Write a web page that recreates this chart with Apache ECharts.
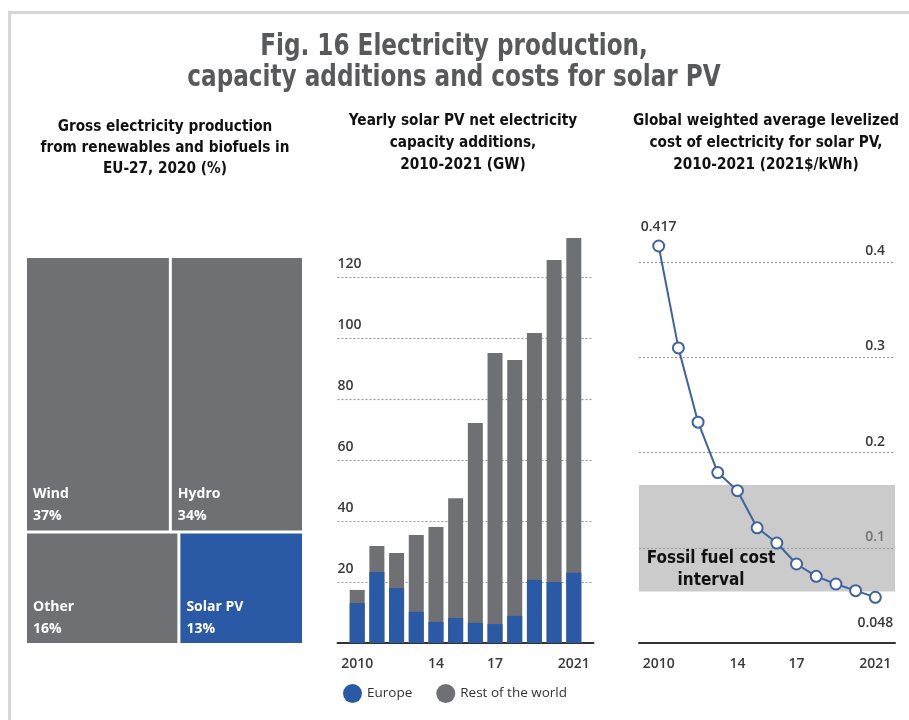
<!DOCTYPE html>
<html>
<head>
<meta charset="utf-8">
<script src="https://cdn.jsdelivr.net/npm/echarts@6/dist/echarts.min.js"></script>
<style>
html,body{margin:0;padding:0;background:#fff;}
#c{width:909px;height:720px;}
</style>
</head>
<body>
<div id="c"></div>
<script>
// ---- data ----
const treemapNames = ['Wind', 'Hydro', 'Other', 'Solar PV'];
const treemapShares = [37, 34, 16, 13];

const years = [2010, 2011, 2012, 2013, 2014, 2015, 2016, 2017, 2018, 2019, 2020, 2021];
const europeGW = [13.1, 23.3, 18.0, 10.2, 6.9, 8.2, 6.6, 6.2, 8.9, 20.7, 20.0, 23.0];
const restGW = [4.3, 8.5, 11.5, 25.2, 31.1, 39.3, 65.5, 88.9, 83.9, 80.9, 105.6, 109.8];

const lcoe = [0.417, 0.310, 0.232, 0.179, 0.160, 0.121, 0.105, 0.083, 0.070, 0.062, 0.055, 0.048];
const fossilBand = [0.054, 0.166];

const xTickYears = [2010, 2014, 2017, 2021];
const xTickLabels = ['2010', '14', '17', '2021'];

const mainTitle = 'Fig. 16 Electricity production,\ncapacity additions and costs for solar PV';
const panelTitles = [
  'Gross electricity production\nfrom renewables and biofuels in\nEU-27, 2020 (%)',
  'Yearly solar PV net electricity\ncapacity additions,\n2010-2021 (GW)',
  'Global weighted average levelized\ncost of electricity for solar PV,\n2010-2021 (2021$/kWh)'
];

// ---- styles ----
const BLUE = '#2a5aa5';
const GREY = '#6f7073';
const LINE = '#3f639e';
const condensed = '"DejaVu Sans Condensed", "DejaVu Sans", sans-serif';
const labelFont = '"Open Sans", sans-serif';

const chart = echarts.init(document.getElementById('c'));

function xLabelFmt(v) {
  const i = xTickYears.indexOf(Math.round(v));
  return i >= 0 ? xTickLabels[i] : '';
}

// total bar height = europe + rest (grey drawn behind, europe in front)
const totalGW = years.map((y, i) => +(europeGW[i] + restGW[i]).toFixed(1));

function headingText(text, x, y, size, lh, sx, color) {
  return {
    type: 'text', silent: true, z: 50,
    x: x, y: y, scaleX: sx,
    style: {
      text: text, textAlign: 'center', textVerticalAlign: 'top',
      font: 'bold ' + size + 'px ' + condensed, fill: color, lineHeight: lh
    }
  };
}

const option = {
  animation: false,
  graphic: [
    {
      type: 'rect', silent: true, z: -10,
      shape: { x: 9.5, y: 12.5, width: 920, height: 730 },
      style: { fill: 'none', stroke: '#d6d6d6', lineWidth: 3 }
    },
    headingText(mainTitle, 454, 31, 31, 31, 0.83, '#58595b'),
    headingText(panelTitles[0], 165, 116, 16, 21, 0.95, '#111'),
    headingText(panelTitles[1], 463, 110, 16, 22, 0.95, '#111'),
    headingText(panelTitles[2], 766, 110, 16, 22, 0.95, '#111'),
    {
      type: 'text', z: 100, silent: true,
      x: 711, y: 548,
      style: {
        text: 'Fossil fuel cost\ninterval', textAlign: 'center', textVerticalAlign: 'top',
        font: 'bold 17px ' + condensed, fill: '#111', lineHeight: 22
      }
    }
  ],
  legend: {
    data: ['Europe', 'Rest of the world'],
    left: 338, top: 679,
    icon: 'circle', itemWidth: 19, itemHeight: 19, itemGap: 24,
    textStyle: { fontFamily: labelFont, fontSize: 13.5, color: '#333' }
  },
  grid: [
    { left: 337.5, top: 216, width: 256, height: 427 },
    { left: 639, top: 167, width: 256, height: 476 }
  ],
  xAxis: [
    {
      gridIndex: 0, type: 'value', min: 2009, max: 2022,
      splitLine: { show: false },
      axisLine: { show: true, lineStyle: { color: '#333', width: 2 } },
      axisTick: { show: false },
      axisLabel: {
        customValues: xTickYears, formatter: xLabelFmt,
        fontFamily: labelFont, fontSize: 14, fontWeight: 600, color: '#3a3a3a', margin: 14
      }
    },
    {
      gridIndex: 1, type: 'value', min: 2009, max: 2022,
      splitLine: { show: false },
      axisLine: { show: true, lineStyle: { color: '#333', width: 2 } },
      axisTick: { show: false },
      axisLabel: {
        customValues: xTickYears, formatter: xLabelFmt,
        fontFamily: labelFont, fontSize: 14, fontWeight: 600, color: '#3a3a3a', margin: 14
      }
    }
  ],
  yAxis: [
    {
      gridIndex: 0, type: 'value', min: 0, max: 140, interval: 20,
      axisLine: { show: false }, axisTick: { show: false },
      splitLine: {
        show: true,
        lineStyle: { type: [2, 2], width: 1.2, color: ['rgba(0,0,0,0)', '#999', '#999', '#999', '#999', '#999', '#999', 'rgba(0,0,0,0)'] }
      },
      axisLabel: {
        inside: true, showMinLabel: false, showMaxLabel: false,
        verticalAlign: 'bottom', margin: 0, padding: [0, 0, 6, 0],
        fontFamily: labelFont, fontSize: 14, fontWeight: 600, color: '#3a3a3a'
      }
    },
    {
      gridIndex: 1, type: 'value', min: 0, max: 0.5, interval: 0.1, position: 'right',
      axisLine: { show: false }, axisTick: { show: false },
      splitLine: {
        show: true,
        lineStyle: { type: [2, 2], width: 1.2, color: ['rgba(0,0,0,0)', '#999', '#999', '#999', '#999', 'rgba(0,0,0,0)'] }
      },
      axisLabel: {
        inside: true, showMinLabel: false, showMaxLabel: false,
        verticalAlign: 'bottom', margin: 10, padding: [0, 0, 4, 0],
        fontFamily: labelFont, fontSize: 14, fontWeight: 600, color: '#3a3a3a'
      }
    }
  ],
  series: [
    {
      type: 'treemap',
      left: 27, top: 258, width: 275, height: 385,
      roam: false, nodeClick: false,
      breadcrumb: { show: false },
      squareRatio: 0.5 * (1 + Math.sqrt(5)),
      itemStyle: { gapWidth: 3, borderWidth: 0, borderColor: '#fff' },
      levels: [{ itemStyle: { gapWidth: 3, borderWidth: 0, borderColor: '#fff' } }],
      label: {
        show: true, position: 'insideBottomLeft',
        formatter: '{b}\n{c}%',
        fontFamily: labelFont, fontSize: 14, fontWeight: 'bold', color: '#fff',
        lineHeight: 22, padding: [0, 0, 3, 6]
      },
      upperLabel: { show: false },
      data: treemapNames.map((n, i) => ({
        name: n, value: treemapShares[i],
        itemStyle: { color: n === 'Solar PV' ? BLUE : GREY }
      }))
    },
    {
      name: 'Rest of the world', type: 'bar', xAxisIndex: 0, yAxisIndex: 0,
      barWidth: 15, barGap: '-100%', itemStyle: { color: GREY },
      data: years.map((y, i) => [y, totalGW[i]])
    },
    {
      name: 'Europe', type: 'bar', xAxisIndex: 0, yAxisIndex: 0,
      barWidth: 15, barGap: '-100%', itemStyle: { color: BLUE },
      data: years.map((y, i) => [y, europeGW[i]])
    },
    {
      name: 'LCOE', type: 'line', xAxisIndex: 1, yAxisIndex: 1,
      symbol: 'circle', symbolSize: 11,
      lineStyle: { color: LINE, width: 2 },
      itemStyle: { color: '#fff', borderColor: LINE, borderWidth: 2 },
      z: 5,
      data: years.map((y, i) => {
        const d = { value: [y, lcoe[i]] };
        if (i === 0) d.label = { show: true, position: 'top', distance: 6, formatter: String(lcoe[i]) };
        if (i === years.length - 1) d.label = { show: true, position: 'bottom', distance: 12, formatter: String(lcoe[i]) };
        return d;
      }),
      label: { fontFamily: labelFont, fontSize: 14, fontWeight: 600, color: '#3a3a3a' },
      markArea: {
        silent: true,
        itemStyle: { color: 'rgba(160,160,160,0.55)' },
        data: [[{ yAxis: fossilBand[0] }, { yAxis: fossilBand[1] }]]
      }
    }
  ]
};

chart.setOption(option);
</script>
</body>
</html>
